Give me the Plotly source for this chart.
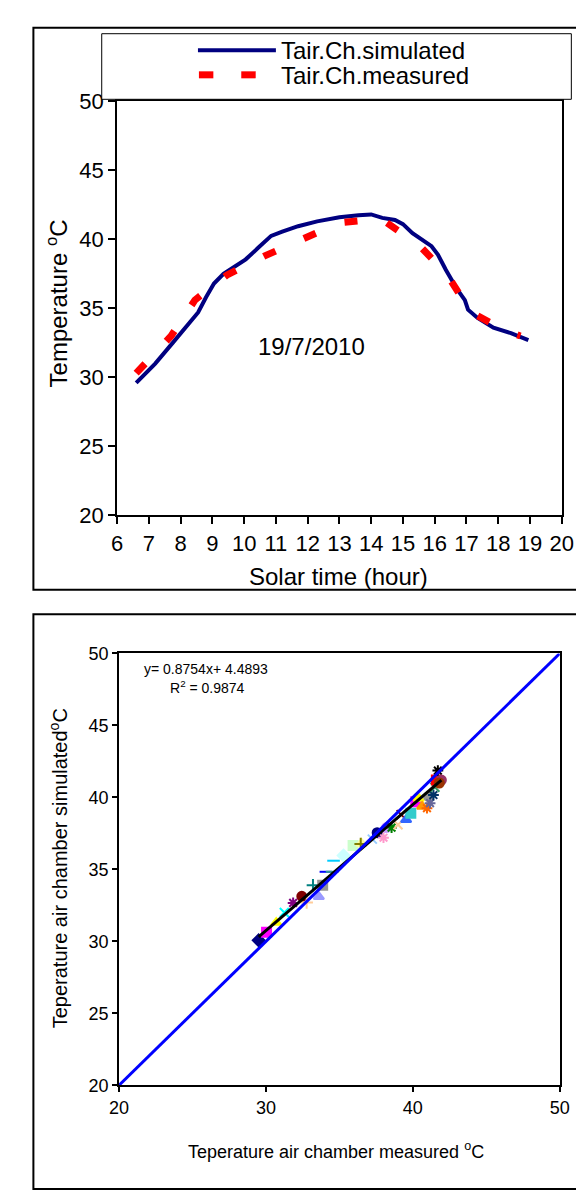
import plotly.graph_objects as go

W, H = 584, 1195

# ---------------- data: top chart ----------------
sim_hours = [6.6, 7.2, 7.75, 8.2, 8.55, 8.8, 9.05, 9.35, 9.7, 10.05, 10.45, 10.85, 11.2, 11.7,
             12.3, 13.0, 13.6, 14.0, 14.35, 14.75, 15.0, 15.3, 15.9, 16.1, 16.35, 16.7, 16.95,
             17.05, 17.35, 17.85, 18.4, 18.95]
sim_temp = [29.6, 31.0, 32.5, 33.7, 34.7, 35.8, 36.8, 37.5, 38.0, 38.55, 39.4, 40.25, 40.55, 40.95,
            41.3, 41.6, 41.75, 41.8, 41.55, 41.4, 41.1, 40.45, 39.5, 38.9, 37.8, 36.4, 35.6,
            34.9, 34.3, 33.6, 33.2, 32.7]
meas_hours = [6.6, 7.7, 8.45, 9.45, 10.65, 11.85, 13.0, 14.3, 15.5, 16.4, 17.15, 18.3, 18.7]
meas_temp = [30.3, 33.0, 35.6, 37.4, 38.8, 40.0, 41.2, 41.5, 39.6, 37.4, 34.7, 33.3, 33.0]
top_xticks = list(range(6, 21))
top_yticks = [20, 25, 30, 35, 40, 45, 50]

# ---------------- data: bottom chart ----------------
sc_measured = [29.5, 30.04, 30.7, 31.25, 31.85, 32.44, 32.77, 33.2, 33.6, 33.86, 34.08, 34.5, 34.6,
               35.28, 35.93, 36.5, 36.45, 37.24, 37.57, 38.0, 38.2, 38.55, 38.99, 39.2, 39.54,
               39.86, 40.2, 40.4, 40.63, 40.96, 41.07, 41.17, 41.4, 41.5, 41.6, 41.7, 41.94, 41.8]
sc_simulated = [30.07, 30.63, 31.3, 32.0, 32.67, 33.13, 32.7, 33.9, 33.1, 33.9, 34.83, 34.83, 35.6,
                35.96, 36.65, 36.8, 36.76, 37.1, 37.55, 37.2, 37.9, 37.9, 38.1, 38.8, 38.45,
                38.9, 39.7, 39.93, 39.37, 39.25, 40.05, 39.6, 40.16, 40.7, 41.2, 41.86, 41.2, 41.0]
trend_slope = 0.8754
trend_intercept = 4.4893
r_squared = 0.9874
bottom_xticks = [20, 30, 40, 50]
bottom_yticks = [20, 25, 30, 35, 40, 45, 50]

# marker styles (style only)
sc_colors = ["#000080", "#FF00FF", "#FFFF00", "#00FFFF", "#800080", "#800000", "#FFCC99", "#008080",
             "#9999FF", "#969696", "#0000FF", "#339999", "#00CCFF", "#CCFFFF", "#CCFFCC", "#FFFF99",
             "#808000", "#99CCFF", "#000080", "#FF99CC", "#CC99FF", "#008000", "#FFCC99", "#800000",
             "#3366FF", "#33CCCC", "#FF00FF", "#FFFF00", "#FF9900", "#FF6600", "#969696", "#666699",
             "#003366", "#339966", "#FF0000", "#000000", "#993366", "#993300"]
sc_symbols = ["diamond", "square", "triangle-up", "x-thin-open", "asterisk-open", "circle",
              "cross-thin-open", "cross-thin-open", "triangle-up", "square", "line-ew-open",
              "line-ew-open", "line-ew-open", "diamond", "square", "triangle-up", "cross-thin-open",
              "x-thin-open", "circle", "asterisk-open", "circle", "asterisk-open", "x-thin-open",
              "x-thin-open", "triangle-up", "square", "square", "triangle-up", "triangle-up",
              "asterisk-open", "circle", "asterisk-open", "asterisk-open", "x-thin-open", "square",
              "asterisk-open", "circle", "circle"]

FONT = "Liberation Sans, Arial, sans-serif"


def px(x):
    return x / W


def py(y):
    return 1 - y / H


fig = go.Figure()

# top chart traces
fig.add_trace(go.Scatter(x=sim_hours, y=sim_temp, mode="lines", name="Tair.Ch.simulated",
                         line=dict(color="#000080", width=4), xaxis="x", yaxis="y", showlegend=False))
fig.add_trace(go.Scatter(x=meas_hours, y=meas_temp, mode="lines", name="Tair.Ch.measured",
                         line=dict(color="#FF0000", width=7, dash="13px,31px"), xaxis="x", yaxis="y",
                         showlegend=False))

# bottom chart scatter points
for i in range(len(sc_measured)):
    sym = sc_symbols[i]
    fig.add_trace(go.Scatter(x=[sc_measured[i]], y=[sc_simulated[i]], mode="markers",
                             marker=dict(color=sc_colors[i], symbol=sym, size=9,
                                         line=dict(color=sc_colors[i], width=2)),
                             xaxis="x2", yaxis="y2", showlegend=False))

# trendline
tx = [min(sc_measured), max(sc_measured)]
ty = [trend_slope * v + trend_intercept for v in tx]
fig.add_trace(go.Scatter(x=tx, y=ty, mode="lines", line=dict(color="black", width=3),
                         xaxis="x2", yaxis="y2", showlegend=False))
# 1:1 line
fig.add_trace(go.Scatter(x=[20, 50], y=[20, 50], mode="lines", line=dict(color="#0000FF", width=3),
                         xaxis="x2", yaxis="y2", showlegend=False))

axis_common = dict(showgrid=False, zeroline=False, showline=True, linecolor="black", linewidth=2,
                   mirror=True, ticks="outside", tickcolor="black", tickwidth=2, ticklen=7)

fig.update_layout(
    width=W, height=H, margin=dict(l=0, r=0, t=0, b=0),
    paper_bgcolor="white", plot_bgcolor="white",
    font=dict(family=FONT, color="black"),
    xaxis=dict(domain=[px(103), px(565)], range=[6, 20], tickvals=top_xticks,
               tickfont=dict(size=22), anchor="y", **axis_common),
    yaxis=dict(domain=[py(506), py(83)], range=[20, 50], tickvals=top_yticks,
               tickfont=dict(size=22), anchor="x", **axis_common),
    xaxis2=dict(domain=[px(105), px(563)], range=[20, 50], tickvals=bottom_xticks,
                tickfont=dict(size=18), anchor="y2", **{**axis_common, "ticklen": 5}),
    yaxis2=dict(domain=[py(1088), py(647)], range=[20, 50], tickvals=bottom_yticks,
                tickfont=dict(size=18), anchor="x2", **{**axis_common, "ticklen": 5}),
)

shapes = [
    # outer frames
    dict(type="rect", xref="paper", yref="paper", x0=px(16), x1=px(583), y0=py(582), y1=py(8),
         line=dict(color="black", width=2)),
    dict(type="rect", xref="paper", yref="paper", x0=px(16), x1=px(583), y0=py(1194), y1=py(607),
         line=dict(color="black", width=2)),
    # legend box
    dict(type="rect", xref="paper", yref="paper", x0=px(87), x1=px(575), y0=py(81), y1=py(14),
         line=dict(color="black", width=1), fillcolor="white"),
    # legend samples
    dict(type="line", xref="paper", yref="paper", x0=px(187), x1=px(268), y0=py(31), y1=py(31),
         line=dict(color="#000080", width=4)),
    dict(type="line", xref="paper", yref="paper", x0=px(188), x1=px(203), y0=py(56), y1=py(56),
         line=dict(color="#FF0000", width=7)),
    dict(type="line", xref="paper", yref="paper", x0=px(232), x1=px(247), y0=py(56), y1=py(56),
         line=dict(color="#FF0000", width=7)),
]
fig.update_layout(shapes=shapes)

ann = [
    dict(text="Tair.Ch.simulated", x=px(271), y=py(31), xanchor="left", yanchor="middle",
         font=dict(size=24)),
    dict(text="Tair.Ch.measured", x=px(271), y=py(57), xanchor="left", yanchor="middle",
         font=dict(size=24)),
    dict(text="19/7/2010", x=px(305), y=py(333), xanchor="center", yanchor="middle",
         font=dict(size=24)),
    dict(text="Solar time (hour)", x=px(333), y=py(568), xanchor="center", yanchor="middle",
         font=dict(size=24)),
    dict(text="Temperature <sup>o</sup>C", x=px(40), y=py(289), xanchor="center", yanchor="middle",
         textangle=-90, font=dict(size=24)),
    dict(text=f"y= {trend_slope}x+ {trend_intercept}", x=px(195), y=py(663), xanchor="center",
         yanchor="middle", font=dict(size=14)),
    dict(text=f"R<sup>2</sup> = {r_squared}", x=px(197), y=py(681), xanchor="center",
         yanchor="middle", font=dict(size=14)),
    dict(text="Teperature air chamber measured <sup>o</sup>C", x=px(330), y=py(1155),
         xanchor="center", yanchor="middle", font=dict(size=18)),
    dict(text="Teperature air chamber simulated<sup>o</sup>C", x=px(42), y=py(866),
         xanchor="center", yanchor="middle", textangle=-90, font=dict(size=20)),
]
for a in ann:
    a.update(xref="paper", yref="paper", showarrow=False)
fig.update_layout(annotations=ann)

fig.write_html("out.html")
